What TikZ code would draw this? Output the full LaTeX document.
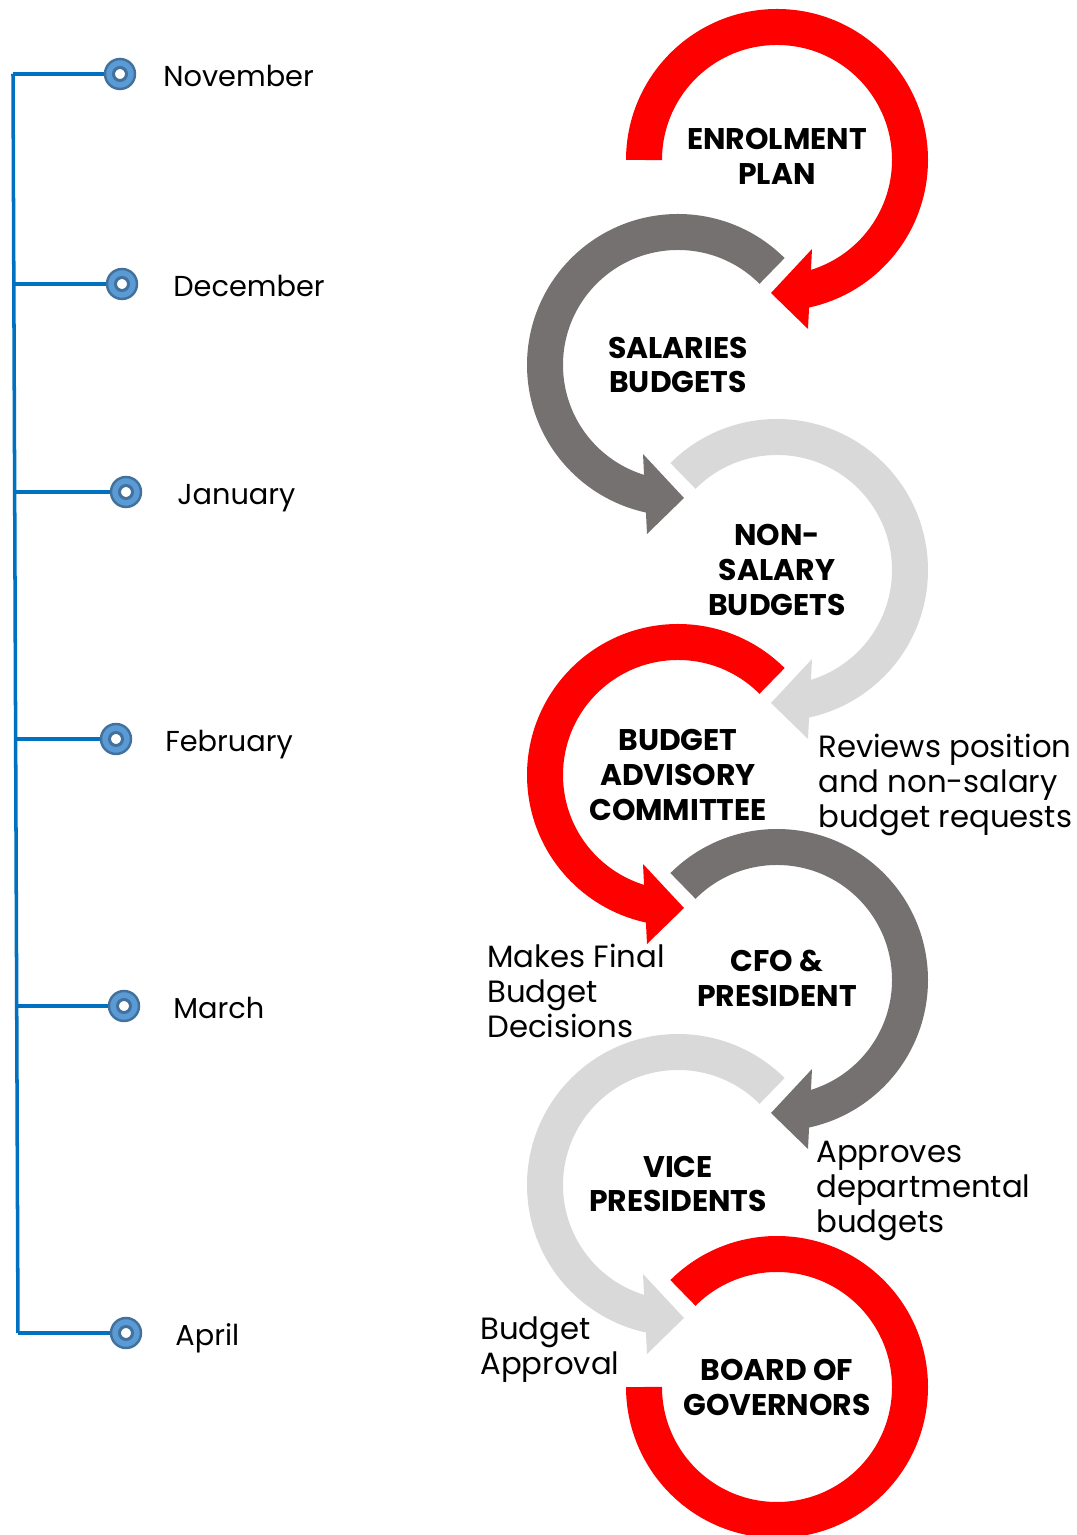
\documentclass[tikz,border=0pt]{standalone}
\usepackage{fontspec}
\setmainfont{Poppins}
\usetikzlibrary{positioning}
\definecolor{ringred}{HTML}{FF0000}
\definecolor{ringdark}{HTML}{767171}
\definecolor{ringlight}{HTML}{D9D9D9}
\definecolor{spineblue}{HTML}{0070C0}
\definecolor{dotblue}{HTML}{5B9BD5}
\definecolor{dotedge}{HTML}{41719C}
\tikzstyle{ring}=[line width=0.72cm]
\tikzstyle{stage}=[font=\fontsize{17}{19.9}\selectfont\bfseries, align=center, inner sep=0pt]
\tikzstyle{month}=[font=\fontsize{16.4}{19.9}\selectfont, anchor=mid west, inner sep=0pt]
\tikzstyle{note}=[font=\fontsize{17.5}{19.9}\selectfont, align=left, anchor=west, inner sep=0pt]
\tikzstyle{spine}=[draw=spineblue, line width=2pt]
\tikzstyle{dot}=[circle, fill=dotblue, draw=dotedge, line width=1.4pt, minimum size=0.6cm, inner sep=0pt,
  path picture={\draw[dotedge, fill=white, line width=1.7pt] (path picture bounding box.center) circle (0.13cm);}]

\begin{document}
\begin{tikzpicture}[x=0.02cm, y=0.02cm]
	\useasboundingbox (0,0) rectangle (1076,1535);

	% the months along the time line
	\foreach \i/\y/\sx/\cx/\lx/\m in {1/1461/13/120/163/November, 2/1251/13.8/122/173/December,
			3/1043/14.6/126/177/January, 4/796/15.6/116/165/February,
			5/529/16.6/124/173/March, 6/202/18/126/175/April}
	{
		\coordinate (s\i) at (\sx,\y);
		\node[dot] (d\i) at (\cx,\y) {};
		\node[month] (l\i) at (\lx,\y-8) {\m};
		\draw[spine] (s\i) -- (d\i);
	}
	\draw[spine] (s1) -- (s6);

	% the stages
	\node[stage] (enrol) at (777,1379) {ENROLMENT\\PLAN};
	\node[stage] (sal) at (678,1170) {SALARIES\\BUDGETS};
	\node[stage] (nonsal) at (777,965) {NON-\\SALARY\\BUDGETS};
	\node[stage] (bac) at (678,760) {BUDGET\\ADVISORY\\COMMITTEE};
	\node[stage] (cfo) at (777,557) {CFO \&\\PRESIDENT};
	\node[stage] (vp) at (678,351) {VICE\\PRESIDENTS};
	\node[stage] (bog) at (777,148) {BOARD OF\\GOVERNORS};

	% rings turning clockwise
	\foreach \name/\col/\start/\dy in {enrol/ringred/180/-4, nonsal/ringlight/135/0, cfo/ringdark/135/-2}
	{
		\draw[ring, draw=\col] (\name.center) ++(0,\dy) ++(\start:133) arc[start angle=\start, end angle=-78, radius=133];
		\fill[\col] (\name.center) ++(0,\dy) ++(35,-89) -- ++(-41,-44) -- ++(37,-36) -- cycle;
	}

	% rings turning anticlockwise
	\foreach \name/\col/\dy in {sal/ringdark/0, bac/ringred/0, vp/ringlight/-1}
	{
		\draw[ring, draw=\col] (\name.center) ++(0,\dy) ++(45:133) arc[start angle=45, end angle=258, radius=133];
		\fill[\col] (\name.center) ++(0,\dy) ++(-35,-89) -- ++(41,-44) -- ++(-37,-36) -- cycle;
	}

	\draw[ring, draw=ringred] (bog.center) ++(135:133) arc[start angle=135, end angle=-180, radius=133];

	% notes beside the rings
	\node[note] (rev) at (818,750) {Reviews position\\and non-salary\\budget requests};
	\node[note] (mfb) at (487,544) {Makes Final\\Budget\\Decisions};
	\node[note] (app) at (816,344) {Approves\\departmental\\budgets};
	\node[note] (bap) at (480,185) {Budget\\Approval};
\end{tikzpicture}
\end{document}
